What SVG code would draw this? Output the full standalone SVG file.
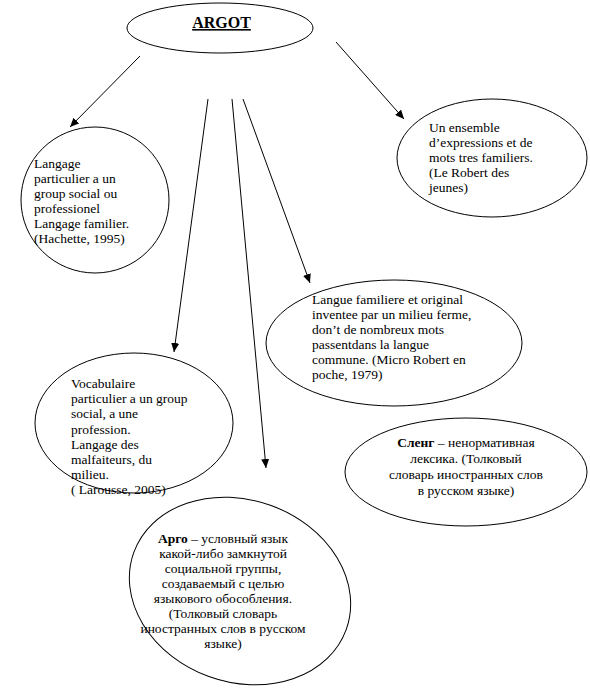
<svg xmlns="http://www.w3.org/2000/svg" width="590" height="698" viewBox="0 0 590 698">
<style>
.sh{fill:#fff;stroke:#000;stroke-width:1}
.t{font-family:'Liberation Serif','Times New Roman','DejaVu Serif',serif;font-size:13.5px;fill:#000}
.c{text-anchor:middle}
.b{font-weight:bold}
.ln{stroke:#000;stroke-width:1;fill:none}
</style>
<defs>
<marker id="ah" markerUnits="userSpaceOnUse" markerWidth="10" markerHeight="8" refX="9" refY="4" orient="auto">
<path d="M0,0 L9,4 L0,8 Z" fill="#000"/>
</marker>
</defs>
<rect width="590" height="698" fill="#fff"/>
<g id="connectors">
<line class="ln" x1="140" y1="56" x2="70" y2="127" marker-end="url(#ah)"/>
<line class="ln" x1="208" y1="99" x2="174" y2="352" marker-end="url(#ah)"/>
<line class="ln" x1="232" y1="99" x2="266" y2="468" marker-end="url(#ah)"/>
<line class="ln" x1="243" y1="99" x2="310" y2="283" marker-end="url(#ah)"/>
<line class="ln" x1="336" y1="42" x2="404" y2="119" marker-end="url(#ah)"/>
</g>
<g id="argot">
<ellipse class="sh" cx="220" cy="28" rx="93" ry="25"/>
<text class="t c b" x="221.5" y="28" font-family="Liberation Serif, serif" style="font-size:16px" text-decoration="underline">ARGOT</text>
</g>
<g id="hachette">
<ellipse class="sh" cx="95" cy="200" rx="74" ry="73"/>
<g class="t" font-family="Liberation Serif, serif">
<text x="34" y="168">Langage</text>
<text x="34" y="183">particulier a un</text>
<text x="34" y="198">group social ou</text>
<text x="34" y="213">professionel</text>
<text x="34" y="228">Langage familier.</text>
<text x="34" y="243">(Hachette, 1995)</text>
</g>
</g>
<g id="robert-jeunes">
<ellipse class="sh" cx="492" cy="158" rx="95" ry="59"/>
<g class="t" font-family="Liberation Serif, serif">
<text x="429" y="132">Un ensemble</text>
<text x="429" y="147">d’expressions et de</text>
<text x="429" y="162">mots tres familiers.</text>
<text x="429" y="177">(Le Robert des</text>
<text x="429" y="192">jeunes)</text>
</g>
</g>
<g id="micro-robert">
<ellipse class="sh" cx="394" cy="343" rx="128" ry="63"/>
<g class="t" font-family="Liberation Serif, serif">
<text x="312" y="304">Langue familiere et original</text>
<text x="312" y="319">inventee par un milieu ferme,</text>
<text x="312" y="334">don’t de nombreux mots</text>
<text x="312" y="349">passentdans la langue</text>
<text x="312" y="364">commune. (Micro Robert en</text>
<text x="312" y="379">poche, 1979)</text>
</g>
</g>
<g id="slang">
<ellipse class="sh" cx="466" cy="472" rx="121" ry="54"/>
<g class="t c" font-family="Liberation Serif, serif">
<text x="466" y="447"><tspan class="b">Сленг</tspan> – ненормативная</text>
<text x="466" y="463">лексика. (Толковый</text>
<text x="466" y="479">словарь иностранных слов</text>
<text x="466" y="495">в русском языке)</text>
</g>
</g>
<g id="argo">
<ellipse class="sh" cx="240" cy="591" rx="113" ry="91" transform="rotate(20 240 591)"/>
<g class="t c" font-family="Liberation Serif, serif">
<text x="223" y="543"><tspan class="b">Арго</tspan> – условный язык</text>
<text x="223" y="558">какой-либо замкнутой</text>
<text x="223" y="573">социальной группы,</text>
<text x="223" y="588">создаваемый с целью</text>
<text x="223" y="603">языкового обособления.</text>
<text x="223" y="618">(Толковый словарь</text>
<text x="223" y="633">иностранных слов в русском</text>
<text x="223" y="648">языке)</text>
</g>
</g>
<g id="larousse">
<ellipse class="sh" cx="134" cy="423" rx="99" ry="70" style="fill:none"/>
<g class="t" font-family="Liberation Serif, serif">
<text x="71" y="388">Vocabulaire</text>
<text x="71" y="403">particulier a un group</text>
<text x="71" y="418">social, a une</text>
<text x="71" y="434">profession.</text>
<text x="71" y="449">Langage des</text>
<text x="71" y="464">malfaiteurs, du</text>
<text x="71" y="479">milieu.</text>
<text x="71" y="494">( Larousse, 2005)</text>
</g>
</g>
</svg>
